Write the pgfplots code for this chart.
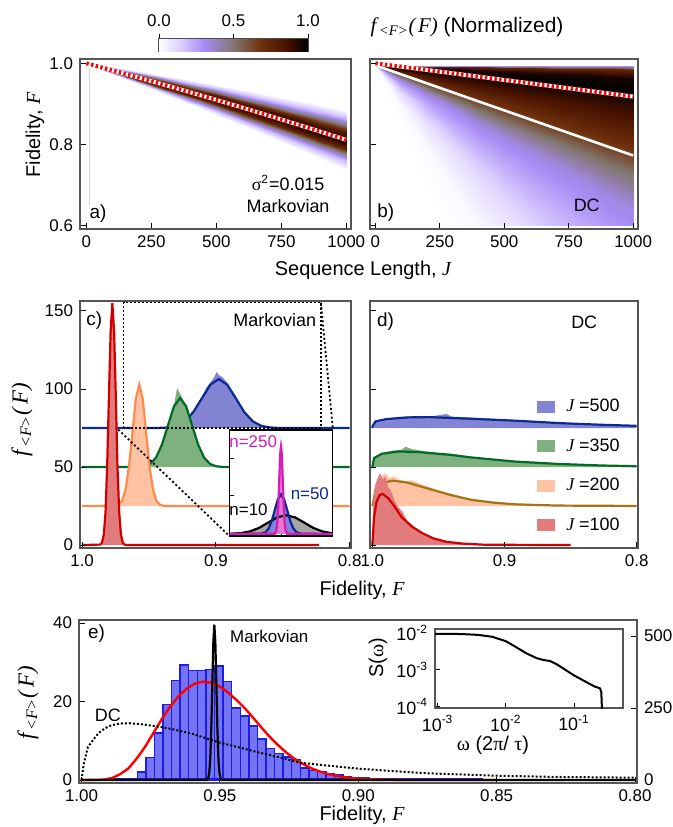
\documentclass[border=0pt]{standalone}
\usepackage{pgfplots}
\pgfplotsset{compat=1.18}
\usepackage{fontspec}
\setmainfont{Liberation Sans}
\newfontfamily\tnr{Liberation Serif}
\newcommand{\fs}[1]{\fontsize{#1}{#1}\selectfont}
\newcommand{\iF}{{\tnr\itshape F}}
\newcommand{\iJ}{{\tnr\itshape J}}
\newcommand{\fF}{{\tnr\itshape f\kern0.12em\textsubscript{<F>}(\kern0.12em F)}}

\definecolor{frame}{HTML}{555555}
\definecolor{redD}{HTML}{D00000}
\definecolor{redL}{HTML}{E27C7C}
\definecolor{orD}{HTML}{FF8A4C}
\definecolor{orL}{HTML}{FFC3A3}
\definecolor{olv}{HTML}{A47414}
\definecolor{grD}{HTML}{006B24}
\definecolor{grL}{HTML}{7FB07F}
\definecolor{blD}{HTML}{0C2A96}
\definecolor{blL}{HTML}{8484D4}
\definecolor{mag}{HTML}{D81AB8}
\definecolor{magL}{HTML}{E27AD4}
\definecolor{barF}{HTML}{7474F4}
\definecolor{barD}{HTML}{1C1CE4}

\pgfplotsset{
  every axis/.append style={scale only axis, anchor=north west,
    axis line style={frame, line width=0.65bp},
    tick style={black, line width=0.5bp},
    major tick length=3bp, tick align=inside,
    tick label style={font=\fs{8.5}},
    /pgf/number format/1000 sep={},
    /pgf/number format/assume math mode=true},
  colormap={hm}{rgb255(0cm)=(255,255,255); rgb255(1.5cm)=(218,205,255);
    rgb255(3cm)=(168,138,244); rgb255(5cm)=(130,118,110); rgb255(6.8cm)=(112,50,14);
    rgb255(8.5cm)=(72,18,0); rgb255(10cm)=(0,0,0)},
}

\begin{document}
\begin{tikzpicture}

% ---------------- colour bar
\begin{axis}[at={(79.5bp,-25.5bp)}, anchor=south west, width=74.5bp, height=6bp,
  xmin=0, xmax=1, ymin=0, ymax=1, ytick=\empty,
  xtick={0,0.5,1}, xticklabels={0.0,0.5,1.0},
  xtick pos=right, xticklabel pos=right, tick align=outside, major tick length=2.5bp,
  axis line style={black!70}, colormap name=hm, point meta min=0, point meta max=1]
\addplot[surf, shader=interp, mesh/cols=7, point meta=explicit] coordinates {
(0,0) [0] (0.15,0) [0.15] (0.3,0) [0.3] (0.5,0) [0.5] (0.68,0) [0.68] (0.85,0) [0.85] (1,0) [1]
(0,1) [0] (0.15,1) [0.15] (0.3,1) [0.3] (0.5,1) [0.5] (0.68,1) [0.68] (0.85,1) [0.85] (1,1) [1]
};
\end{axis}
\node[font=\fs{10.5}] at (233.5bp,-13.5bp) {\fF\ (Normalized)};

% ---------------- a) Markovian map
\begin{axis}[at={(40bp,-29.5bp)}, width=135.5bp, height=85bp,
  xmin=-24.6, xmax=1018, ymin=0.5919, ymax=1.0106,
  xtick={0,250,500,750,1000}, ytick={0.6,0.8,1.0}, yticklabels={0.6,0.8,1.0},
  tick pos=left, axis on top, colormap name=hm, point meta min=0, point meta max=1]
\addplot[surf, shader=interp, mesh/cols=11, point meta=explicit] coordinates {
(0,1.002) [0.02] (100,0.9916) [0.02] (200,0.9809) [0.02] (300,0.9699) [0.02] (400,0.9586) [0.02] (500,0.9469) [0.02] (600,0.9349) [0.02] (700,0.9225) [0.02] (800,0.9098) [0.02] (900,0.8968) [0.02] (1000,0.8835) [0.02]
(0,1.0014) [0.22] (100,0.9889) [0.22] (200,0.9761) [0.22] (300,0.9630) [0.22] (400,0.9496) [0.22] (500,0.9358) [0.22] (600,0.9217) [0.22] (700,0.9072) [0.22] (800,0.8924) [0.22] (900,0.8773) [0.22] (1000,0.8619) [0.22]
(0,1.001) [0.46] (100,0.9871) [0.46] (200,0.9729) [0.46] (300,0.9584) [0.46] (400,0.9436) [0.46] (500,0.9284) [0.46] (600,0.9129) [0.46] (700,0.8970) [0.46] (800,0.8808) [0.46] (900,0.8643) [0.46] (1000,0.8475) [0.46]
(0,1.0006) [0.75] (100,0.9853) [0.75] (200,0.9697) [0.75] (300,0.9538) [0.75] (400,0.9376) [0.75] (500,0.9210) [0.75] (600,0.9041) [0.75] (700,0.8868) [0.75] (800,0.8692) [0.75] (900,0.8513) [0.75] (1000,0.8331) [0.75]
(0,1.0) [1] (100,0.9826) [1] (200,0.9649) [1] (300,0.9469) [1] (400,0.9286) [1] (500,0.9099) [1] (600,0.8909) [1] (700,0.8715) [1] (800,0.8518) [1] (900,0.8318) [1] (1000,0.8115) [1]
(0,0.9994) [0.75] (100,0.9799) [0.75] (200,0.9601) [0.75] (300,0.9400) [0.75] (400,0.9196) [0.75] (500,0.8988) [0.75] (600,0.8777) [0.75] (700,0.8562) [0.75] (800,0.8344) [0.75] (900,0.8123) [0.75] (1000,0.7899) [0.75]
(0,0.999) [0.46] (100,0.9781) [0.46] (200,0.9569) [0.46] (300,0.9354) [0.46] (400,0.9136) [0.46] (500,0.8914) [0.46] (600,0.8689) [0.46] (700,0.8460) [0.46] (800,0.8228) [0.46] (900,0.7993) [0.46] (1000,0.7755) [0.46]
(0,0.9986) [0.22] (100,0.9763) [0.22] (200,0.9537) [0.22] (300,0.9308) [0.22] (400,0.9076) [0.22] (500,0.8840) [0.22] (600,0.8601) [0.22] (700,0.8358) [0.22] (800,0.8112) [0.22] (900,0.7863) [0.22] (1000,0.7611) [0.22]
(0,0.998) [0.02] (100,0.9736) [0.02] (200,0.9489) [0.02] (300,0.9239) [0.02] (400,0.8986) [0.02] (500,0.8729) [0.02] (600,0.8469) [0.02] (700,0.8205) [0.02] (800,0.7938) [0.02] (900,0.7668) [0.02] (1000,0.7395) [0.02]
};
\addplot[gray!35, line width=0.5bp] coordinates {(12,0.988) (12,0.65)};
\addplot[white, line width=2bp] coordinates {(0,1.0) (100,0.9826) (200,0.9649) (300,0.9469) (400,0.9286) (500,0.9099) (600,0.8909) (700,0.8715) (800,0.8518) (900,0.8318) (1000,0.8115)};
\addplot[red, line width=2bp, dash pattern=on 1.2bp off 1.2bp] coordinates {(0,1.0) (100,0.9826) (200,0.9649) (300,0.9469) (400,0.9286) (500,0.9099) (600,0.8909) (700,0.8715) (800,0.8518) (900,0.8318) (1000,0.8115)};
\node[font=\fs{9}] at (776,0.705) {{\tnr σ}\textsuperscript{2}=0.015};
\node[font=\fs{9}] at (776,0.649) {Markovian};
\node[font=\fs{9.5}] at (45,0.63) {a)};
\end{axis}

% ---------------- b) DC map
\begin{axis}[at={(185bp,-29.5bp)}, width=134bp, height=85bp,
  xmin=-21, xmax=1019, ymin=0.5919, ymax=1.0106,
  xtick={0,250,500,750,1000}, ytick={0.6,0.8,1.0}, yticklabels={},
  tick pos=left, axis on top, colormap name=hm, point meta min=0, point meta max=1]
\addplot[surf, shader=interp, mesh/cols=11, point meta=explicit] coordinates {
(0,0.994) [0.3] (100,0.994) [0.3] (200,0.994) [0.3] (300,0.994) [0.3] (400,0.994) [0.3] (500,0.994) [0.3] (600,0.994) [0.3] (700,0.994) [0.3] (800,0.994) [0.3] (900,0.994) [0.3] (1000,0.994) [0.3]
(0,0.994) [0.75] (100,0.993) [0.75] (200,0.992) [0.75] (300,0.991) [0.75] (400,0.990) [0.75] (500,0.989) [0.75] (600,0.988) [0.75] (700,0.987) [0.75] (800,0.986) [0.75] (900,0.985) [0.75] (1000,0.984) [0.75]
(0,0.994) [0.95] (100,0.991) [0.95] (200,0.988) [0.95] (300,0.985) [0.95] (400,0.982) [0.95] (500,0.979) [0.95] (600,0.976) [0.95] (700,0.973) [0.95] (800,0.970) [0.95] (900,0.967) [0.95] (1000,0.964) [0.95]
(0,0.994) [1] (100,0.988) [1] (200,0.982) [1] (300,0.976) [1] (400,0.970) [1] (500,0.964) [1] (600,0.958) [1] (700,0.952) [1] (800,0.946) [1] (900,0.940) [1] (1000,0.934) [1]
(0,0.994) [0.9] (100,0.984) [0.9] (200,0.974) [0.9] (300,0.964) [0.9] (400,0.954) [0.9] (500,0.944) [0.9] (600,0.934) [0.9] (700,0.924) [0.9] (800,0.914) [0.9] (900,0.904) [0.9] (1000,0.894) [0.9]
(0,0.994) [0.8] (100,0.979) [0.8] (200,0.964) [0.8] (300,0.949) [0.8] (400,0.934) [0.8] (500,0.919) [0.8] (600,0.904) [0.8] (700,0.889) [0.8] (800,0.874) [0.8] (900,0.859) [0.8] (1000,0.844) [0.8]
(0,0.994) [0.7] (100,0.974) [0.7] (200,0.954) [0.7] (300,0.934) [0.7] (400,0.914) [0.7] (500,0.894) [0.7] (600,0.874) [0.7] (700,0.854) [0.7] (800,0.834) [0.7] (900,0.814) [0.7] (1000,0.794) [0.7]
(0,0.994) [0.5] (100,0.967) [0.5] (200,0.940) [0.5] (300,0.913) [0.5] (400,0.886) [0.5] (500,0.859) [0.5] (600,0.832) [0.5] (700,0.805) [0.5] (800,0.778) [0.5] (900,0.751) [0.5] (1000,0.724) [0.5]
(0,0.994) [0.33] (100,0.959) [0.33] (200,0.924) [0.33] (300,0.889) [0.33] (400,0.854) [0.33] (500,0.819) [0.33] (600,0.784) [0.33] (700,0.749) [0.33] (800,0.714) [0.33] (900,0.679) [0.33] (1000,0.644) [0.33]
(0,0.994) [0.22] (100,0.944) [0.22] (200,0.894) [0.22] (300,0.844) [0.22] (400,0.794) [0.22] (500,0.744) [0.22] (600,0.694) [0.22] (700,0.644) [0.22] (800,0.594) [0.22] (900,0.544) [0.22] (1000,0.494) [0.22]
(0,0.994) [0.1] (100,0.924) [0.1] (200,0.854) [0.1] (300,0.784) [0.1] (400,0.714) [0.1] (500,0.644) [0.1] (600,0.574) [0.1] (700,0.504) [0.1] (800,0.434) [0.1] (900,0.364) [0.1] (1000,0.294) [0.1]
(0,0.994) [0.02] (100,0.894) [0.02] (200,0.794) [0.02] (300,0.694) [0.02] (400,0.594) [0.02] (500,0.494) [0.02] (600,0.394) [0.02] (700,0.294) [0.02] (800,0.194) [0.02] (900,0.094) [0.02] (1000,-0.006) [0.02]
(0,0.994) [0] (100,0.844) [0] (200,0.694) [0] (300,0.544) [0] (400,0.394) [0] (500,0.244) [0] (600,0.094) [0] (700,-0.056) [0] (800,-0.206) [0] (900,-0.356) [0] (1000,-0.506) [0]
};
% white strip below the map, as in the reference
\addplot[white, line width=2.2bp] coordinates {(-30,0.5945) (1030,0.5945)};
\addplot[white, line width=1.3bp] coordinates {(0,0.995) (1000,0.773)};
\addplot[white, line width=2bp] coordinates {(0,1.0) (1000,0.918)};
\addplot[red, line width=2bp, dash pattern=on 1.2bp off 1.2bp] coordinates {(0,1.0) (1000,0.918)};
\node[font=\fs{9.5}] at (40,0.632) {b)};
\node[font=\fs{9}] at (820,0.65) {DC};
\end{axis}
\node[font=\fs{10}] at (181.5bp,-135bp) {Sequence Length,\ \iJ};
\node[font=\fs{10}, rotate=90] at (17.5bp,-67.5bp) {Fidelity,\ \iF};

% ---------------- c) Markovian histograms
\begin{axis}[at={(40bp,-150.5bp)}, width=135.5bp, height=123.5bp,
  x dir=reverse, xmin=0.799, xmax=1.0016, ymin=-1.9, ymax=156.4,
  xtick={0.8,0.9,1.0}, xticklabels={0.8,0.9,1.0}, ytick={0,50,100,150},
  tick pos=left, axis on top]
% J=500
\addplot[fill=blL, draw=none] coordinates {(0.9423,75) (0.9359,75.4) (0.9296,76.8) (0.9232,80) (0.9169,86) (0.913,91) (0.9105,95) (0.907,101) (0.9042,104) (0.901,108) (0.8995,111) (0.8978,109) (0.895,107.5) (0.8915,104) (0.8851,95) (0.8788,86) (0.8724,80) (0.8661,76.8) (0.8597,75.4) (0.8534,75)};
\addplot[blD, line width=1.1bp] coordinates {(1.0,75) (0.9423,75.07) (0.9359,75.35) (0.9296,76.4) (0.9232,79.2) (0.9169,85.2) (0.9105,94.0) (0.9042,102.7) (0.8978,106.4) (0.8915,102.7) (0.8851,94.0) (0.8788,85.2) (0.8724,79.2) (0.8661,76.4) (0.8597,75.35) (0.8534,75.07) (0.849,75) (0.8,75)};
% J=350
\addplot[fill=grL, draw=none] coordinates {(0.9583,50) (0.9538,50.6) (0.9493,52.2) (0.9448,56.5) (0.9403,65) (0.9358,77.5) (0.9313,90) (0.929,100.5) (0.9268,97) (0.9245,93) (0.9223,89.5) (0.9178,77) (0.9133,64.6) (0.9088,56) (0.9043,51.9) (0.8998,50.5) (0.8953,50)};
\addplot[grD, line width=1.1bp] coordinates {(1.0,50) (0.9583,50.1) (0.9538,50.5) (0.9493,51.9) (0.9448,56.0) (0.9403,64.4) (0.9358,76.8) (0.9313,89.0) (0.9268,94.2) (0.9223,89.0) (0.9178,76.8) (0.9133,64.4) (0.9088,56.0) (0.9043,51.9) (0.8998,50.5) (0.8953,50.1) (0.8908,50) (0.8,50)};
% J=200
\addplot[fill=orL, draw=none] coordinates {(0.9753,25) (0.9727,25.9) (0.9701,28.4) (0.9676,35.5) (0.9650,50.3) (0.9624,72.5) (0.9599,94) (0.9573,104) (0.9547,94) (0.9522,72.2) (0.9496,50.3) (0.9470,35.5) (0.9445,28.4) (0.9419,25.9) (0.9393,25)};
\addplot[orD, line width=1.1bp] coordinates {(1.0,25) (0.9753,25.2) (0.9727,25.9) (0.9701,28.4) (0.9676,35.5) (0.9650,50.3) (0.9624,72.2) (0.9599,93.7) (0.9573,102.8) (0.9547,93.7) (0.9522,72.2) (0.9496,50.3) (0.9470,35.5) (0.9445,28.4) (0.9419,25.9) (0.9393,25.2) (0.9368,25) (0.8,25)};
% J=100
\addplot[fill=redL, draw=none] coordinates {(0.9864,0) (0.9851,1.7) (0.9838,6.8) (0.9825,21.0) (0.9813,50.3) (0.9800,94.0) (0.9787,136.8) (0.9774,155) (0.9761,136.8) (0.9748,94.0) (0.9736,50.3) (0.9723,21.0) (0.9710,6.8) (0.9697,1.7) (0.9684,0)};
\addplot[redD, line width=1.1bp] coordinates {(1.0,0) (0.9864,0.3) (0.9851,1.7) (0.9838,6.8) (0.9825,21.0) (0.9813,50.3) (0.9800,94.0) (0.9787,136.8) (0.9774,155) (0.9761,136.8) (0.9748,94.0) (0.9736,50.3) (0.9723,21.0) (0.9710,6.8) (0.9697,1.7) (0.9684,0.3) (0.9668,0) (0.823,0)};
% zoom frame
\addplot[black, line width=0.7bp, dash pattern=on 1bp off 1bp] coordinates {(0.969,75) (0.969,155.3) (0.8215,155.3) (0.8215,75) (0.969,75)};
\addplot[black, line width=0.9bp, dash pattern=on 1bp off 1.2bp] coordinates {(0.973,74) (0.8899,5.8)};
\addplot[black, line width=0.9bp, dash pattern=on 1bp off 1.2bp] coordinates {(0.8215,155.3) (0.8125,74)};
\node[font=\fs{9.5}] at (0.991,144) {c)};
\node[font=\fs{9}] at (0.856,144) {Markovian};
\end{axis}

% inset of c)
\begin{axis}[at={(114.75bp,-268bp)}, anchor=south west, width=51.5bp, height=53bp,
  xmin=-1, xmax=1, ymin=-0.02, ymax=1.0, xtick={0}, ytick={0.37,0.73},
  xticklabels={}, yticklabels={}, tick pos=left, major tick length=2bp,
  axis background/.style={fill=white}, axis line style={black, line width=0.6bp}]
\addplot[fill=gray!70, draw=none] coordinates {(-1,0) (-1,0.0013) (-0.775,0.0079) (-0.6,0.0244) (-0.425,0.0584) (-0.25,0.1092) (-0.075,0.1589) (0.1,0.18) (0.275,0.1589) (0.45,0.1092) (0.625,0.0584) (0.8,0.0244) (0.975,0.0079) (1,0.0068) (1,0)};
\addplot[fill=blL, draw=none] coordinates {(-0.4,0) (-0.3,0.0167) (-0.24,0.0514) (-0.18,0.1234) (-0.12,0.2305) (-0.06,0.3354) (0,0.40) (0.06,0.3354) (0.12,0.2305) (0.18,0.1234) (0.24,0.0514) (0.3,0.0167) (0.4,0)};
\addplot[fill=magL, draw=none] coordinates {(-0.12,0) (-0.09,0.031) (-0.07,0.114) (-0.05,0.302) (-0.035,0.509) (-0.02,0.72) (-0.01,0.86) (0,0.94) (0.01,0.86) (0.02,0.72) (0.035,0.509) (0.05,0.302) (0.07,0.114) (0.09,0.031) (0.12,0)};
\addplot[black, line width=1.1bp] coordinates {(-1,0.0013) (-0.775,0.0079) (-0.6,0.0244) (-0.425,0.0584) (-0.25,0.1092) (-0.075,0.1589) (0.1,0.18) (0.275,0.1589) (0.45,0.1092) (0.625,0.0584) (0.8,0.0244) (0.975,0.0079) (1,0.0068)};
\addplot[blD, line width=1.1bp] coordinates {(-1,0) (-0.4,0.0015) (-0.3,0.0167) (-0.24,0.0514) (-0.18,0.1234) (-0.12,0.2305) (-0.06,0.3354) (0,0.38) (0.06,0.3354) (0.12,0.2305) (0.18,0.1234) (0.24,0.0514) (0.3,0.0167) (0.4,0.0015) (1,0)};
\addplot[mag, line width=1.1bp] coordinates {(-1,0) (-0.12,0.002) (-0.09,0.031) (-0.07,0.114) (-0.05,0.302) (-0.035,0.509) (-0.02,0.713) (-0.01,0.806) (0,0.84) (0.01,0.806) (0.02,0.713) (0.035,0.509) (0.05,0.302) (0.07,0.114) (0.09,0.031) (0.12,0.002) (1,0)};
\node[font=\fs{8.5}, text=mag] at (-0.54,0.89) {n=250};
\node[font=\fs{8.5}, text=blD] at (0.56,0.39) {n=50};
\node[font=\fs{8.5}] at (-0.63,0.23) {n=10};
\end{axis}

% ---------------- d) DC histograms
\begin{axis}[at={(185bp,-150.5bp)}, width=134bp, height=123.5bp,
  x dir=reverse, xmin=0.799, xmax=1.0018, ymin=-1.9, ymax=156.4,
  xtick={0.8,0.9,1.0}, xticklabels={0.8,0.9,1.0}, ytick={0,50,100,150}, yticklabels={},
  tick pos=left, axis on top,
  legend style={at={(axis cs:0.8755,94.5)}, anchor=north west, draw=none, fill=none,
    font=\fs{9}, row sep=11bp, inner sep=0pt, nodes={inner sep=0.5bp},
    /tikz/every odd column/.append style={column sep=5bp}},
  legend cell align=left,
  legend image code/.code={\path[fill] (0bp,-3bp) rectangle (9bp,3bp);}]
\addlegendimage{fill=blL, draw=none}
\addlegendentry{\iJ\ =500}
\addlegendimage{fill=grL, draw=none}
\addlegendentry{\iJ\ =350}
\addlegendimage{fill=orL, draw=none}
\addlegendentry{\iJ\ =200}
\addlegendimage{fill=redL, draw=none}
\addlegendentry{\iJ\ =100}
% J=500
\addplot[fill=blL, draw=none] coordinates {(1.0,75) (0.999,78) (0.995,80) (0.99,81) (0.98,82) (0.97,82.5) (0.955,82.5) (0.944,84) (0.94,82.3) (0.92,81.5) (0.90,80.5) (0.88,79.5) (0.86,78.5) (0.84,77.5) (0.82,77) (0.80,76.6) (0.80,75)};
\addplot[blD, line width=1.1bp] coordinates {(1.0,75) (1.0,76) (0.9977,79.2) (0.9896,80.7) (0.9734,81.8) (0.9571,82) (0.9247,80.9) (0.8922,79.7) (0.8597,78.2) (0.8273,77.1) (0.80,76.4)};
% J=350
\addplot[fill=grL, draw=none] coordinates {(1.0,50) (0.999,55) (0.995,58) (0.99,59.5) (0.985,60.5) (0.978,61) (0.975,63) (0.97,61.5) (0.96,60) (0.95,59) (0.94,58.5) (0.93,57) (0.92,56) (0.90,54.5) (0.88,53) (0.86,52.2) (0.84,51.5) (0.82,51) (0.80,50.6) (0.80,50)};
\addplot[grD, line width=1.1bp] coordinates {(1.0,50) (1.0,50.3) (0.9987,55.7) (0.9929,58.5) (0.9799,60) (0.9636,59.5) (0.9409,57.8) (0.9247,56.1) (0.8922,53.5) (0.8597,52) (0.8273,51) (0.80,50.5)};
% J=200
\addplot[fill=orL, draw=none] coordinates {(1.0,25) (0.999,34) (0.997,40) (0.993,44) (0.99,46) (0.987,43) (0.984,44) (0.98,42) (0.975,41) (0.97,41.5) (0.96,38) (0.95,35) (0.94,32.8) (0.93,30) (0.92,29) (0.91,27.5) (0.90,26.8) (0.88,25.8) (0.86,25.5) (0.83,25.2) (0.80,25.1) (0.80,25)};
\addplot[olv, line width=1.1bp] coordinates {(1.0,25) (0.9994,26.8) (0.9977,35.3) (0.9929,39.6) (0.9847,41.3) (0.9734,40) (0.9571,36) (0.9409,32.1) (0.9247,28.9) (0.9084,27.2) (0.8922,26.1) (0.8597,25.3) (0.80,25.05)};
% J=100
\addplot[fill=redL, draw=none] coordinates {(1.0,0) (0.9995,25) (0.998,38) (0.996,43) (0.994,46) (0.992,42) (0.990,44) (0.988,37) (0.986,35) (0.983,28) (0.980,24) (0.977,21) (0.974,16) (0.970,13) (0.966,10) (0.962,8) (0.956,5.5) (0.950,3.5) (0.944,2.3) (0.935,1.3) (0.925,0.6) (0.91,0.2) (0.89,0)};
\addplot[redD, line width=1.1bp] coordinates {(1.0,0) (0.9987,18) (0.9968,27.8) (0.9945,32) (0.9922,32.8) (0.988,30) (0.9831,24.6) (0.9782,18.2) (0.9701,11.8) (0.962,7.5) (0.9539,4.3) (0.9442,2.1) (0.9312,0.9) (0.9149,0.2) (0.85,0)};
\node[font=\fs{9.5}] at (0.99,143) {d)};
\node[font=\fs{9}] at (0.8397,143) {DC};
\end{axis}
\node[font=\fs{10}] at (181bp,-295bp) {Fidelity,\ \iF};
\node[font=\fs{11.5}, rotate=90] at (11bp,-210bp) {\fF};

% ---------------- e) comparison
\begin{axis}[at={(39.5bp,-310bp)}, width=279bp, height=81.5bp,
  x dir=reverse, xmin=0.7993, xmax=1.0009, ymin=-0.76, ymax=40.8,
  xtick={0.80,0.85,0.90,0.95,1.00}, xticklabels={0.80,0.85,0.90,0.95,1.00},
  ytick={0,20,40}, tick pos=left]
\addplot[ybar, bar width=0.0031, bar shift=0pt, fill=barF, draw=barD, line width=0.7bp] coordinates {
(0.9783,2) (0.9752,5.8) (0.9721,12) (0.9690,19.3) (0.9659,25.4) (0.9628,29.3) (0.9597,28) (0.9566,28) (0.9535,28.2) (0.9504,29.1) (0.9473,25.1) (0.9442,18.4) (0.9411,16.3) (0.9380,13.8) (0.9349,10.5) (0.9318,8) (0.9287,6.7) (0.9256,5.9) (0.9225,5.2) (0.9194,3.1) (0.9163,2.5) (0.9132,2.1) (0.9101,1.7) (0.9070,1.3) (0.9039,0.8) (0.9008,0.6) (0.8977,0.5) (0.8946,0.4) (0.8915,0.3)};
\addplot[barD, line width=1bp] coordinates {(0.99,0.15) (0.855,0.15)};
\addplot[red, line width=1.2bp] coordinates {(1.0,0) (0.992,0.1) (0.989,0.5) (0.986,1.5) (0.983,3.0) (0.980,5.5) (0.977,8.5) (0.974,12) (0.971,15.5) (0.968,18.7) (0.965,21.3) (0.962,23.3) (0.959,24.6) (0.956,25.1) (0.953,24.8) (0.950,23.8) (0.947,22.3) (0.944,20.4) (0.941,18.3) (0.938,15.9) (0.935,13.4) (0.932,11.0) (0.929,8.9) (0.926,7.0) (0.923,5.4) (0.920,4.1) (0.917,3.0) (0.914,2.2) (0.911,1.55) (0.908,1.05) (0.904,0.6) (0.900,0.35) (0.895,0.17) (0.89,0.08) (0.88,0.02) (0.85,0)};
\addplot[black, line width=1bp, dash pattern=on 1bp off 1bp] coordinates {(1.0,0) (0.9992,4) (0.9977,8.4) (0.9955,10.5) (0.9938,12) (0.9915,13.2) (0.9891,14) (0.986,14.4) (0.9829,14.5) (0.978,14.2) (0.972,13.6) (0.9674,13) (0.96,11.8) (0.9504,9.6) (0.943,8.3) (0.9364,7.1) (0.928,5.7) (0.9209,4.4) (0.91,3.6) (0.90,2.9) (0.89,2.4) (0.8744,1.7) (0.85,1.1) (0.83,0.8) (0.80,0.6)};
\node[font=\fs{9.5}] at (0.9946,37.4) {e)};
\node[font=\fs{8.5}, anchor=west] at (0.9488,36.5) {Markovian};
\node[font=\fs{9}, anchor=west] at (0.9977,16.5) {DC};
\end{axis}
\begin{axis}[at={(39.5bp,-310bp)}, width=279bp, height=81.5bp,
  x dir=reverse, xmin=0.7993, xmax=1.0009, ymin=-10.4, ymax=555.6,
  axis x line=none, axis y line*=right, ytick={0,250,500}, ytick pos=right]
\addplot[black, line width=1.1bp] coordinates {(1.0,0) (0.9546,0) (0.95459,1.2) (0.95422,6.0) (0.95385,23.7) (0.95348,72.9) (0.95311,175) (0.95274,327) (0.95237,475.7) (0.952,539) (0.95163,475.7) (0.95126,327) (0.95089,175) (0.95052,72.9) (0.95015,23.7) (0.94978,6.0) (0.94941,1.2) (0.9494,0) (0.80,0)};
\end{axis}
\node[font=\fs{10}] at (181bp,-407.5bp) {Fidelity,\ \iF};
\node[font=\fs{11.5}, rotate=90] at (14bp,-351.5bp) {\fF};

% inset of e)
\begin{axis}[at={(217.5bp,-354bp)}, anchor=south west, width=94bp, height=39.5bp,
  xmode=log, ymode=log, xmin=9.16e-4, xmax=0.522, ymin=9.23e-5, ymax=0.0129,
  xtick={1e-3,1e-2,1e-1}, xticklabels={10\textsuperscript{-3},10\textsuperscript{-2},10\textsuperscript{-1}},
  ytick={1e-4,1e-3,1e-2}, yticklabels={10\textsuperscript{-4},10\textsuperscript{-3},10\textsuperscript{-2}},
  xminorticks=false, yminorticks=false, tick pos=left, major tick length=2.5bp,
  tick label style={font=\fs{9}},
  axis background/.style={fill=white}, axis line style={frame, line width=0.6bp}]
\addplot[black, line width=1bp] coordinates {(9.1e-4,0.00955) (0.001,0.00955) (0.00158,0.00955) (0.00251,0.00933) (0.00398,0.00891) (0.00631,0.00794) (0.01,0.00603) (0.0141,0.00417) (0.02,0.00282) (0.0282,0.00209) (0.0355,0.00186) (0.0447,0.00174) (0.0562,0.00141) (0.0794,0.000933) (0.1,0.000708) (0.126,0.000562) (0.158,0.000447) (0.2,0.000355) (0.24,0.000316) (0.251,0.000251) (0.257,7.9e-5)};
\end{axis}
\node[font=\fs{10}, rotate=90] at (189bp,-329bp) {S({\tnr ω})};
\node[font=\fs{10}] at (246.5bp,-372.5bp) {{\tnr ω} (2{\tnr π}/ {\tnr τ})};

\pgfresetboundingbox
\path[use as bounding box] (0,0) rectangle (336.5bp,-413.5bp);
\end{tikzpicture}
\end{document}
